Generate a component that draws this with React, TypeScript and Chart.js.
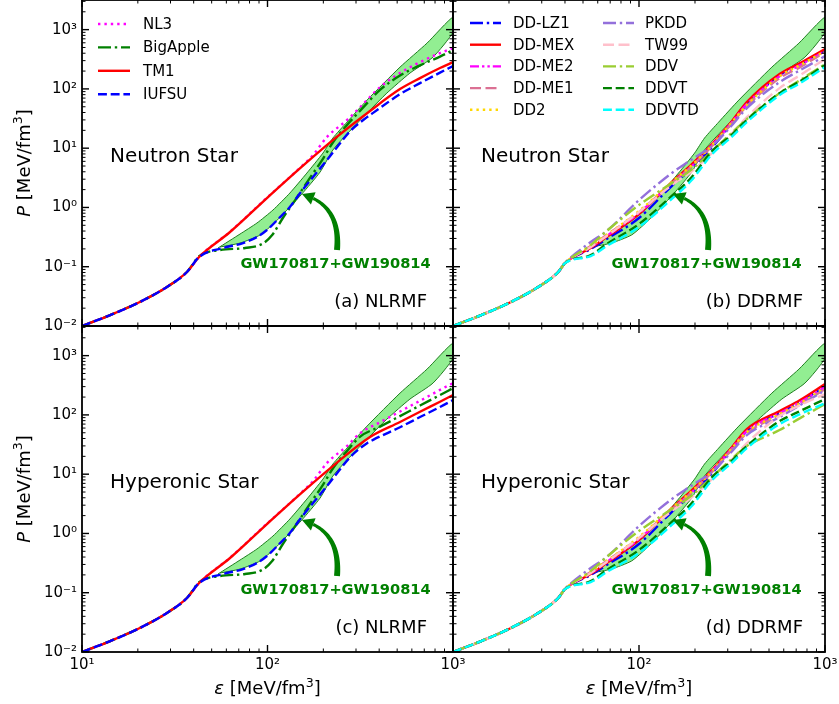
import React, { useEffect, useRef } from 'react';
import { Chart, registerables } from 'chart.js';

Chart.register(...registerables);

const W = 839;
const H = 704;
const FAMILY = '"DejaVu Sans", "Liberation Sans", sans-serif';

// ---------- axes ----------
const xMin = 10;
const xMax = 1000;
const yMin = 0.01;
const yMax = 3162;
const xTickValues = [10, 100, 1000];
const yTickValues = [0.01, 0.1, 1, 10, 100, 1000];

// ---------- shared crust (all models) ----------
const crustEps = [10, 14.2, 20.5, 28.7, 36.8];
const crustP = [0.01, 0.0153, 0.0254, 0.0455, 0.0815];

// ---------- GW170817+GW190814 band ----------
const bandUpperEps = [54.1, 71.1, 87.7, 107, 132, 163, 199, 225, 268, 344, 518, 724, 1000];
const bandUpperP = [0.207, 0.356, 0.546, 0.904, 1.75, 3.8, 8.26, 14.8, 27.5, 64.7, 233, 591, 1625];
const bandLowerEps = [55.5, 71.1, 91.2, 110, 132, 153, 192, 225, 262, 344, 440, 586, 780, 1000];
const bandLowerP = [0.215, 0.251, 0.343, 0.567, 1.02, 1.68, 3.95, 9.29, 16.0, 39.1, 84.9, 185, 344, 908];

// ---------- NLRMF ----------
const nl3Eps = [42.8, 62.8, 99.3, 150, 176, 209, 268, 316, 404, 518, 664, 851, 1000];
const nl3PNS = [0.146, 0.39, 1.46, 4.7, 7.65, 15.4, 29.8, 49.3, 107, 185, 283, 402, 488];
const nl3PHyp = [0.146, 0.39, 1.46, 4.7, 7.65, 15.4, 29.8, 49.3, 75, 114, 173, 264, 344];

const bigAppleEps = [42.8, 55.5, 75.7, 93.3, 106, 121, 141, 169, 197, 226, 268, 316, 404, 518, 664, 851, 1000];
const bigApplePNS = [0.151, 0.191, 0.207, 0.241, 0.343, 0.663, 1.33, 3.13, 6.29, 12.7, 24.5, 43, 96, 168, 250, 351, 451];
const bigApplePHyp = [0.151, 0.191, 0.207, 0.241, 0.343, 0.663, 1.33, 3.13, 6.29, 12.7, 24.5, 43, 63.5, 95.5, 144, 216, 283];

const tm1Eps = [42.8, 62.8, 99.3, 150, 225, 357, 518, 664, 851, 1000];
const tm1PNS = [0.146, 0.385, 1.44, 4.61, 13.7, 42.5, 99.3, 152, 225, 283];
const tm1PHyp = [0.146, 0.385, 1.44, 4.61, 13.7, 42.5, 76, 113, 167, 216];

const iufsuEps = [42.8, 57.5, 73.8, 87.7, 99.3, 117, 132, 150, 176, 209, 237, 279, 344, 371, 518, 664, 851, 1000];
const iufsuPNS = [0.146, 0.207, 0.251, 0.317, 0.416, 0.689, 1.02, 1.75, 3.26, 6.29, 10.4, 19.4, 33.4, 39.4, 81.6, 125, 188, 243];
const iufsuPHyp = [0.146, 0.207, 0.251, 0.317, 0.416, 0.689, 1.02, 1.75, 3.26, 6.29, 10.4, 19.4, 33.4, 38, 62, 92, 136, 178];

// ---------- DDRMF ----------
const ddEps = [40, 55, 67, 100, 150, 190, 250, 310, 380, 570, 735, 1000];
const ddlz1PNS = [0.115, 0.199, 0.293, 0.663, 2.3, 4.45, 10.8, 24.5, 55.5, 171, 262, 451];
const ddlz1PHyp = [0.115, 0.199, 0.293, 0.663, 2.3, 4.45, 10.8, 24.5, 53.3, 107, 164, 306];
const ddmexPNS = [0.115, 0.207, 0.317, 0.774, 2.68, 5.19, 12.2, 26.5, 59.8, 178, 272, 469];
const ddmexPHyp = [0.115, 0.207, 0.317, 0.774, 2.68, 5.19, 12.2, 26.5, 57.7, 116, 178, 331];
const ddme2PNS = [0.115, 0.215, 0.33, 0.805, 2.58, 4.8, 11.7, 25.5, 55.5, 164, 252, 434];
const ddme2PHyp = [0.115, 0.215, 0.33, 0.805, 2.58, 4.8, 11.7, 25.5, 53.3, 107, 164, 294];
const ddme1PNS = [0.115, 0.223, 0.343, 0.836, 2.58, 4.8, 11.3, 24.5, 51.3, 152, 233, 418];
const ddme1PHyp = [0.115, 0.223, 0.343, 0.836, 2.58, 4.8, 11.3, 24.5, 49.3, 99.3, 152, 272];
const dd2PNS = [0.115, 0.223, 0.343, 0.869, 2.68, 4.99, 11.7, 25.5, 53.3, 164, 252, 434];
const dd2PHyp = [0.115, 0.223, 0.343, 0.869, 2.68, 4.99, 11.7, 25.5, 51.3, 103, 158, 283];
const pkddPNS = [0.115, 0.261, 0.4, 1.33, 3.8, 6.3, 11.3, 22.7, 47.4, 130, 207, 357];
const pkddPHyp = [0.115, 0.261, 0.4, 1.33, 3.8, 6.3, 11.3, 22.7, 45.6, 91.8, 146, 262];
const tw99PNS = [0.115, 0.215, 0.33, 0.836, 2.39, 3.95, 8.59, 16.6, 33.4, 103, 171, 318];
const tw99PHyp = [0.115, 0.215, 0.33, 0.836, 2.39, 3.95, 8.59, 16.6, 33.4, 95.5, 146, 224];
const ddvPNS = [0.115, 0.232, 0.4, 1.1, 2.58, 4.27, 9.29, 17.3, 31.0, 84.9, 141, 262];
const ddvPHyp = [0.115, 0.232, 0.4, 1.1, 2.58, 4.27, 9.29, 17.3, 29.8, 55.5, 88.3, 152];
const ddvtPNS = [0.115, 0.157, 0.241, 0.525, 1.56, 3.13, 9.29, 16.0, 29.8, 84.9, 135, 252];
const ddvtPHyp = [0.115, 0.157, 0.241, 0.525, 1.56, 3.13, 9.29, 16.0, 29.8, 78.5, 116, 185];
const ddvtdPNS = [0.115, 0.151, 0.223, 0.468, 1.39, 2.79, 8.26, 14.8, 27.5, 78.5, 125, 233];
const ddvtdPHyp = [0.115, 0.151, 0.223, 0.468, 1.39, 2.79, 8.26, 14.8, 27.5, 69.9, 103, 158];

// ---------- text ----------
const gwLabel = 'GW170817+GW190814';

// ---------- line styles ----------
const LW = 2.4;
const SOLID: number[] = [];
const DOT = [2.4, 4];
const DASH = [8.9, 3.8];
const LONGDASH = [11, 4.5];
const DASHDOT = [13, 3.8, 2.4, 3.8];
const DASHDOTDOT = [9, 3, 2.4, 3, 2.4, 3];

type Model = { label: string; color: string; dash: number[]; eps: number[]; pNS: number[]; pHyp: number[] };

const nlModels: Model[] = [
  { label: 'NL3', color: '#ff00ff', dash: DOT, eps: nl3Eps, pNS: nl3PNS, pHyp: nl3PHyp },
  { label: 'BigApple', color: '#008000', dash: DASHDOT, eps: bigAppleEps, pNS: bigApplePNS, pHyp: bigApplePHyp },
  { label: 'TM1', color: '#ff0000', dash: SOLID, eps: tm1Eps, pNS: tm1PNS, pHyp: tm1PHyp },
  { label: 'IUFSU', color: '#0000ff', dash: DASH, eps: iufsuEps, pNS: iufsuPNS, pHyp: iufsuPHyp },
];

const ddModels: Model[] = [
  { label: 'DD-LZ1', color: '#0000ff', dash: DASHDOT, eps: ddEps, pNS: ddlz1PNS, pHyp: ddlz1PHyp },
  { label: 'DD-MEX', color: '#ff0000', dash: SOLID, eps: ddEps, pNS: ddmexPNS, pHyp: ddmexPHyp },
  { label: 'DD-ME2', color: '#ff00ff', dash: DASHDOTDOT, eps: ddEps, pNS: ddme2PNS, pHyp: ddme2PHyp },
  { label: 'DD-ME1', color: '#db7093', dash: LONGDASH, eps: ddEps, pNS: ddme1PNS, pHyp: ddme1PHyp },
  { label: 'DD2', color: '#ffd700', dash: DOT, eps: ddEps, pNS: dd2PNS, pHyp: dd2PHyp },
  { label: 'PKDD', color: '#9370db', dash: DASHDOT, eps: ddEps, pNS: pkddPNS, pHyp: pkddPHyp },
  { label: 'TW99', color: '#ffc0cb', dash: LONGDASH, eps: ddEps, pNS: tw99PNS, pHyp: tw99PHyp },
  { label: 'DDV', color: '#9acd32', dash: DASHDOT, eps: ddEps, pNS: ddvPNS, pHyp: ddvPHyp },
  { label: 'DDVT', color: '#008000', dash: DASH, eps: ddEps, pNS: ddvtPNS, pHyp: ddvtPHyp },
  { label: 'DDVTD', color: '#00ffff', dash: DASH, eps: ddEps, pNS: ddvtdPNS, pHyp: ddvtdPHyp },
];

type Panel = {
  key: string; left: number; right: number; top: number; bottom: number;
  yLabels: boolean; xLabels: boolean; star: string; tag: string; tagInset: number;
  family: 'NL' | 'DD'; hyp: boolean; legend: boolean;
};

const panels: Panel[] = [
  { key: 'a', left: 82, right: 453, top: 0, bottom: 326, yLabels: true, xLabels: false, star: 'Neutron Star', tag: '(a) NLRMF', tagInset: 26, family: 'NL', hyp: false, legend: true },
  { key: 'b', left: 453, right: 825, top: 0, bottom: 326, yLabels: false, xLabels: false, star: 'Neutron Star', tag: '(b) DDRMF', tagInset: 22, family: 'DD', hyp: false, legend: true },
  { key: 'c', left: 82, right: 453, top: 326, bottom: 652, yLabels: true, xLabels: true, star: 'Hyperonic Star', tag: '(c) NLRMF', tagInset: 26, family: 'NL', hyp: true, legend: false },
  { key: 'd', left: 453, right: 825, top: 326, bottom: 652, yLabels: false, xLabels: true, star: 'Hyperonic Star', tag: '(d) DDRMF', tagInset: 22, family: 'DD', hyp: true, legend: false },
];

const SUP: Record<string, string> = { '0': '⁰', '1': '¹', '2': '²', '3': '³', '4': '⁴', '5': '⁵', '6': '⁶', '7': '⁷', '8': '⁸', '9': '⁹', '-': '⁻' };
const powLabel = (v: number) => '10' + String(Math.round(Math.log10(v))).split('').map((c) => SUP[c]).join('');

function toPoints(eps: number[], p: number[]) {
  return eps.map((e, i) => ({ x: e, y: p[i] }));
}

function drawRich(ctx: CanvasRenderingContext2D, parts: { text: string; font: string; dy: number }[], cx: number, baseline: number) {
  let total = 0;
  for (const part of parts) { ctx.font = part.font; total += ctx.measureText(part.text).width; }
  let x = cx - total / 2;
  ctx.textAlign = 'left';
  ctx.textBaseline = 'alphabetic';
  for (const part of parts) {
    ctx.font = part.font;
    ctx.fillText(part.text, x, baseline + part.dy);
    x += ctx.measureText(part.text).width;
  }
}

function axisParts(symbol: string) {
  return [
    { text: symbol, font: `italic 18px ${FAMILY}`, dy: 0 },
    { text: ' [MeV/fm', font: `18px ${FAMILY}`, dy: 0 },
    { text: '3', font: `12.6px ${FAMILY}`, dy: -7.5 },
    { text: ']', font: `18px ${FAMILY}`, dy: 0 },
  ];
}

function drawArrow(ctx: CanvasRenderingContext2D, ox: number, oy: number) {
  const T = { x: ox + 255, y: oy + 250 };
  const C = { x: ox + 259, y: oy + 205 };
  const E = { x: ox + 220, y: oy + 194 };
  const headLen = 12, headHalf = 6.5, w0 = 3.0, w1 = 1.5;
  const bez = (t: number) => ({
    x: (1 - t) * (1 - t) * T.x + 2 * (1 - t) * t * C.x + t * t * E.x,
    y: (1 - t) * (1 - t) * T.y + 2 * (1 - t) * t * C.y + t * t * E.y,
  });
  const tan = (t: number) => ({
    x: 2 * (1 - t) * (C.x - T.x) + 2 * t * (E.x - C.x),
    y: 2 * (1 - t) * (C.y - T.y) + 2 * t * (E.y - C.y),
  });
  let tb = 1;
  for (let t = 1; t > 0; t -= 0.002) {
    const p = bez(t);
    if (Math.hypot(p.x - E.x, p.y - E.y) >= headLen) { tb = t; break; }
  }
  const N = 40;
  const L: { x: number; y: number }[] = [];
  const R: { x: number; y: number }[] = [];
  for (let i = 0; i <= N; i++) {
    const t = (tb * i) / N;
    const p = bez(t);
    const d = tan(t);
    const len = Math.hypot(d.x, d.y);
    const nx = -d.y / len, ny = d.x / len;
    const w = w0 + ((w1 - w0) * i) / N;
    L.push({ x: p.x + nx * w, y: p.y + ny * w });
    R.push({ x: p.x - nx * w, y: p.y - ny * w });
  }
  ctx.fillStyle = '#008000';
  ctx.beginPath();
  ctx.moveTo(L[0].x, L[0].y);
  for (const p of L) ctx.lineTo(p.x, p.y);
  for (let i = R.length - 1; i >= 0; i--) ctx.lineTo(R[i].x, R[i].y);
  ctx.closePath();
  ctx.fill();
  const pb = bez(tb);
  const dx = E.x - pb.x, dy = E.y - pb.y;
  const len = Math.hypot(dx, dy);
  const nx = -dy / len, ny = dx / len;
  ctx.beginPath();
  ctx.moveTo(E.x, E.y);
  ctx.lineTo(pb.x + nx * headHalf, pb.y + ny * headHalf);
  ctx.lineTo(pb.x - nx * headHalf, pb.y - ny * headHalf);
  ctx.closePath();
  ctx.fill();
}

function makeDecor(panel: Panel) {
  return {
    id: 'decor-' + panel.key,
    afterDraw(chart: any) {
      const ctx: CanvasRenderingContext2D = chart.ctx;
      const a = chart.chartArea;
      const xs = chart.scales.x;
      const ys = chart.scales.y;
      ctx.save();
      ctx.setLineDash([]);

      // texts
      ctx.fillStyle = '#000';
      ctx.textBaseline = 'alphabetic';
      ctx.textAlign = 'left';
      ctx.font = `20px ${FAMILY}`;
      ctx.fillText(panel.star, a.left + 28, a.top + 162);
      ctx.textAlign = 'right';
      ctx.font = `18px ${FAMILY}`;
      ctx.fillText(panel.tag, a.right - panel.tagInset, a.top + 307);
      ctx.textAlign = 'center';
      ctx.fillStyle = '#008000';
      ctx.font = `bold 14.6px ${FAMILY}`;
      ctx.fillText(gwLabel, a.left + 253.5, a.top + 268);
      drawArrow(ctx, a.left, a.top);

      // legend
      if (panel.legend) {
        ctx.font = `15px ${FAMILY}`;
        ctx.textAlign = 'left';
        ctx.textBaseline = 'middle';
        const models = panel.family === 'NL' ? nlModels : ddModels;
        models.forEach((m, i) => {
          let x0: number, x1: number, xt: number, y: number;
          if (panel.family === 'NL') {
            x0 = a.left + 16; x1 = a.left + 48; xt = a.left + 61; y = a.top + 24 + i * 23.4;
          } else {
            const col = Math.floor(i / 5), row = i % 5;
            x0 = a.left + 17 + col * 133; x1 = x0 + 31; xt = a.left + 60 + col * 132; y = a.top + 23 + row * 21.7;
          }
          ctx.strokeStyle = m.color;
          ctx.lineWidth = LW;
          ctx.lineCap = 'butt';
          ctx.setLineDash(m.dash);
          ctx.beginPath();
          ctx.moveTo(x0, y);
          ctx.lineTo(x1, y);
          ctx.stroke();
          ctx.setLineDash([]);
          ctx.fillStyle = '#000';
          ctx.fillText(m.label, xt, y + 1);
        });
      }

      // ticks (inward, all sides)
      ctx.setLineDash([]);
      ctx.strokeStyle = '#000';
      const seg = (x1: number, y1: number, x2: number, y2: number) => {
        ctx.beginPath(); ctx.moveTo(x1, y1); ctx.lineTo(x2, y2); ctx.stroke();
      };
      const major = 7, minor = 3.5;
      for (const d of xTickValues) {
        const px = xs.getPixelForValue(d);
        ctx.lineWidth = 1.4;
        seg(px, a.bottom, px, a.bottom - major);
        seg(px, a.top, px, a.top + major);
        if (d < xMax) {
          ctx.lineWidth = 1;
          for (let k = 2; k <= 9; k++) {
            const q = xs.getPixelForValue(d * k);
            seg(q, a.bottom, q, a.bottom - minor);
            seg(q, a.top, q, a.top + minor);
          }
        }
      }
      for (const d of yTickValues) {
        const py = ys.getPixelForValue(d);
        ctx.lineWidth = 1.4;
        seg(a.left, py, a.left + major, py);
        seg(a.right, py, a.right - major, py);
        ctx.lineWidth = 1;
        for (let k = 2; k <= 9; k++) {
          const v = d * k;
          if (v > yMax) break;
          const q = ys.getPixelForValue(v);
          seg(a.left, q, a.left + minor, q);
          seg(a.right, q, a.right - minor, q);
        }
      }

      // frame
      ctx.lineWidth = 1.8;
      ctx.strokeRect(a.left, a.top, a.right - a.left, a.bottom - a.top);

      // axis titles
      ctx.fillStyle = '#000';
      if (panel.yLabels) {
        ctx.save();
        ctx.translate(29.5, (a.top + a.bottom) / 2);
        ctx.rotate(-Math.PI / 2);
        drawRich(ctx, axisParts('P'), 0, 0);
        ctx.restore();
      }
      if (panel.xLabels) {
        drawRich(ctx, axisParts('ε'), (a.left + a.right) / 2, 694);
      }
      ctx.restore();
    },
  };
}

function buildDatasets(panel: Panel) {
  const models = panel.family === 'NL' ? nlModels : ddModels;
  const n = models.length;
  const sets: any[] = models.map((m, i) => ({
    label: m.label,
    data: [...toPoints(crustEps, crustP), ...toPoints(m.eps, panel.hyp ? m.pHyp : m.pNS)],
    borderColor: m.color,
    backgroundColor: m.color,
    borderWidth: LW,
    borderDash: m.dash,
    borderCapStyle: 'butt',
    fill: false,
    pointRadius: 0,
    cubicInterpolationMode: 'monotone',
    order: n - i,
  }));
  const bandPts = [
    ...toPoints(bandUpperEps, bandUpperP),
    ...toPoints(bandLowerEps, bandLowerP).reverse(),
  ];
  sets.push({
    label: 'band',
    data: bandPts,
    borderColor: '#1e7d1e',
    borderWidth: 1,
    backgroundColor: 'rgb(146,238,146)',
    fill: 'shape',
    tension: 0.2,
    pointRadius: 0,
    order: 100,
  });
  return sets;
}

function PanelChart({ panel }: { panel: Panel }) {
  const ref = useRef<HTMLCanvasElement | null>(null);
  useEffect(() => {
    if (!ref.current) return;
    const xh = panel.xLabels ? 30 : 0;
    const isRight = panel.left > 200;
    const chart = new Chart(ref.current, {
      type: 'line',
      data: { datasets: buildDatasets(panel) },
      options: {
        animation: false,
        responsive: false,
        devicePixelRatio: 1,
        events: [],
        layout: { padding: { left: 0, top: panel.top, right: W - panel.right, bottom: H - panel.bottom - xh } },
        plugins: { legend: { display: false }, tooltip: { enabled: false } },
        elements: { point: { radius: 0 } },
        scales: {
          x: {
            type: 'logarithmic',
            min: xMin,
            max: xMax,
            position: 'bottom',
            grid: { display: false, drawTicks: false },
            border: { display: false },
            ticks: {
              display: panel.xLabels,
              font: { family: FAMILY, size: 15 },
              color: '#000',
              padding: 4,
              maxRotation: 0,
              autoSkip: false,
              callback: (value: any) => {
                const v = Number(value);
                if (isRight && v === 10) return '';
                return powLabel(v);
              },
            },
            afterBuildTicks: (s: any) => { s.ticks = xTickValues.map((v) => ({ value: v })); },
            afterFit: (s: any) => {
              s.height = xh;
              s.paddingLeft = 0; s.paddingRight = 0; s.paddingTop = 0; s.paddingBottom = 0;
            },
          } as any,
          y: {
            type: 'logarithmic',
            min: yMin,
            max: yMax,
            position: 'left',
            grid: { display: false, drawTicks: false },
            border: { display: false },
            ticks: {
              display: panel.yLabels,
              font: { family: FAMILY, size: 15 },
              color: '#000',
              padding: 5,
              autoSkip: false,
              callback: (value: any) => powLabel(Number(value)),
            },
            afterBuildTicks: (s: any) => { s.ticks = yTickValues.map((v) => ({ value: v })); },
            afterFit: (s: any) => {
              s.width = panel.left;
              s.paddingLeft = 0; s.paddingRight = 0; s.paddingTop = 0; s.paddingBottom = 0;
            },
          } as any,
        },
      } as any,
      plugins: [makeDecor(panel) as any],
    });
    return () => chart.destroy();
  }, [panel]);
  return (
    <canvas
      ref={ref}
      width={W}
      height={H}
      style={{ position: 'absolute', left: 0, top: 0, width: W, height: H }}
    />
  );
}

export default function App() {
  return (
    <div style={{ position: 'absolute', left: 0, top: 0, width: W, height: H, background: '#fff' }}>
      {panels.map((p) => (
        <PanelChart key={p.key} panel={p} />
      ))}
    </div>
  );
}
